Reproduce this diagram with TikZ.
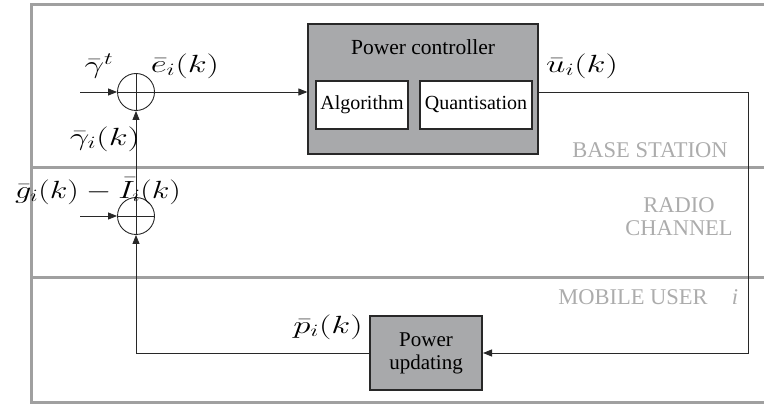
\documentclass[tikz,border=0pt]{standalone}
\usepackage[no-math]{fontspec}
\setmainfont{Liberation Serif}
\usepackage{graphicx}
\usetikzlibrary{arrows.meta}
\definecolor{band}{RGB}{160,160,160}
\definecolor{boxgray}{RGB}{168,169,171}
\definecolor{lbl}{RGB}{172,172,172}
\definecolor{ink}{RGB}{40,40,40}
\newcommand{\mth}[2][1.4]{\scalebox{#1}[1]{\fontsize{23}{27}\selectfont$#2$}}
\begin{document}
\begin{tikzpicture}[x=1pt,y=-1pt,
  bandline/.style={draw=band, line width=3pt},
  conn/.style={draw=ink, line width=0.9pt, -{Triangle[length=9pt,width=7pt]}},
  plain/.style={draw=ink, line width=0.9pt},
  sumnode/.style={circle, draw=ink, line width=0.9pt, minimum size=37pt, inner sep=0pt},
  bigbox/.style={draw=ink, line width=1.2pt, fill=boxgray, minimum width=230pt, minimum height=130pt, inner sep=0pt},
  whitebox/.style={draw=ink, line width=1.2pt, fill=white, minimum height=48pt, inner sep=0pt, font=\fontsize{20}{24}\selectfont},
  upbox/.style={draw=ink, line width=2pt, fill=boxgray, minimum width=112pt, minimum height=74pt, inner sep=0pt, align=center, font=\fontsize{21}{23}\selectfont},
  zone/.style={text=lbl, font=\fontsize{22.5}{25}\selectfont, inner sep=0pt, align=center},
  mlabel/.style={inner sep=0pt}
]
\useasboundingbox (0,0) rectangle (764,406);
% bands
\draw[bandline] (31,5) -- (764,5);
\draw[bandline] (31,168) -- (764,168);
\draw[bandline] (31,278) -- (764,278);
\draw[bandline] (31,403) -- (764,403);
\draw[bandline] (31,3.5) -- (31,404.5);
% zone labels
\node[zone] (bs) at (650,150) {BASE STATION};
\node[zone] (rc) at (679,217) {RADIO\\[-2pt]CHANNEL};
\node[zone] (mu) at (633,297) {MOBILE USER};
\node[zone] (mui) at (735,297) {\itshape i};
% blocks
\node[bigbox] (pc) at (423,89) {};
\node[inner sep=0pt, font=\fontsize{21.5}{24}\selectfont] (pct) at (423,47) {Power controller};
\node[whitebox, minimum width=92pt] (alg) at (362,105) {Algorithm};
\node[whitebox, minimum width=112pt] (qua) at (476,105) {Quantisation};
\node[upbox] (pu) at (426,353) {Power\\updating};
% summing junctions
\node[sumnode] (s1) at (136,92) {};
\node[sumnode] (s2) at (136,216) {};
\draw[plain] (s1.north) -- (s1.south) (s1.west) -- (s1.east);
\draw[plain] (s2.north) -- (s2.south) (s2.west) -- (s2.east);
% coordinates
\coordinate (in1) at (80,92);
\coordinate (in2) at (80,216);
\coordinate (c1) at (748,92);
\coordinate (c2) at (748,353);
\coordinate (c3) at (136,353);
% connectors
\draw[conn] (in1) -- (s1.west);
\draw[conn] (in2) -- (s2.west);
\draw[conn] (s1.east) -- (s1.east -| pc.west);
\draw[conn] (s1.east -| pc.east) -- (c1) -- (c2) -- (pu.east);
\draw[conn] (pu.west) -- (c3) -- (s2.south);
\draw[conn] (s2.north) -- (s1.south);
% math labels
\node[mlabel] (lgt) at (99,66) {\mth{\bar\gamma^t}};
\node[mlabel] (le) at (185,66) {\mth{\bar e_i(k)}};
\node[mlabel] (lgi) at (105,139) {\mth{\bar\gamma_i(k)}};
\node[mlabel] (lg) at (98,191) {\mth[1.3]{\bar g_i(k)-\bar I_i(k)}};
\node[mlabel] (lu) at (582,66) {\mth{\bar u_i(k)}};
\node[mlabel] (lp) at (328,327) {\mth{\bar p_i(k)}};
\end{tikzpicture}
\end{document}
